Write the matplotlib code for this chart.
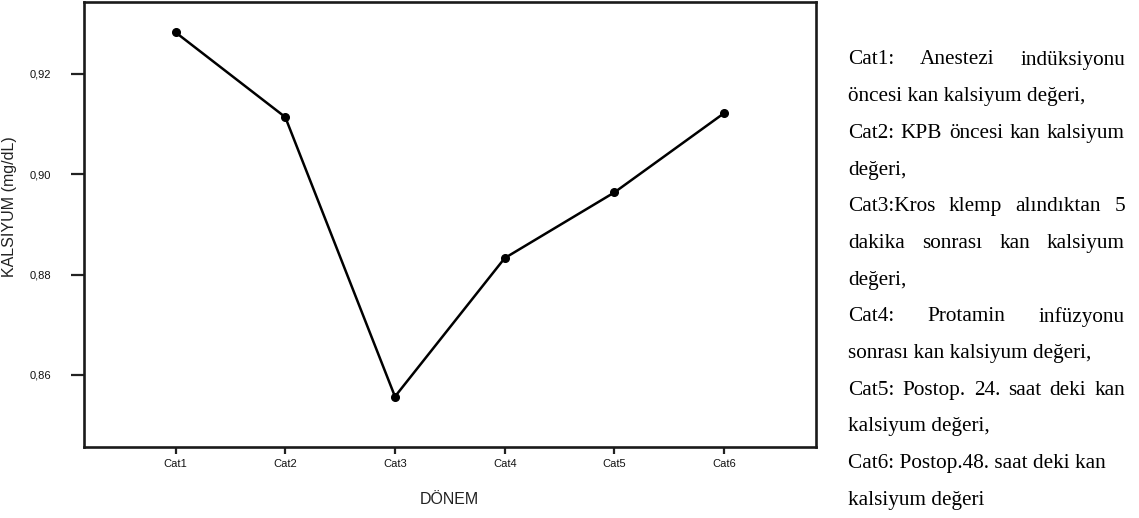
import matplotlib
matplotlib.use("Agg")
import matplotlib.pyplot as plt
from matplotlib.ticker import FixedLocator, FuncFormatter

categories = ["Cat1", "Cat2", "Cat3", "Cat4", "Cat5", "Cat6"]
kalsiyum = [0.9283, 0.9114, 0.8557, 0.8833, 0.8964, 0.9122]
yticks = [0.86, 0.88, 0.90, 0.92]

# aciklama satirlari: (metin, iki yana yasli mi)
notes = [
    ("Cat1: Anestezi indüksiyonu", True),
    ("öncesi kan kalsiyum değeri,", False),
    ("Cat2: KPB öncesi kan kalsiyum", True),
    ("değeri,", False),
    ("Cat3:Kros klemp alındıktan 5", True),
    ("dakika sonrası kan kalsiyum", True),
    ("değeri,", False),
    ("Cat4: Protamin infüzyonu", True),
    ("sonrası kan kalsiyum değeri,", False),
    ("Cat5: Postop. 24. saat deki kan", True),
    ("kalsiyum değeri,", False),
    ("Cat6: Postop.48. saat deki kan", False),
    ("kalsiyum değeri", False),
]

W, H = 1139, 518
fig = plt.figure(figsize=(W / 100, H / 100), dpi=100)
ax = fig.add_axes([84 / W, 1 - 447 / H, (815.7 - 84) / W, (447 - 1.7) / H])

x = list(range(1, len(categories) + 1))
ax.plot(x, kalsiyum, color="black", lw=1.8, marker="o", ms=5.5, zorder=3)

ax.set_xlim(0.166, 6.834)
ax.set_ylim(0.84565, 0.9344)
ax.set_xticks(x)
ax.set_xticklabels(categories)
ax.yaxis.set_major_locator(FixedLocator(yticks))
ax.yaxis.set_major_formatter(FuncFormatter(lambda v, p: f"{v:.2f}".replace(".", ",")))

sans = ["Liberation Sans Narrow", "Liberation Sans", "DejaVu Sans"]
for lab in ax.get_xticklabels() + ax.get_yticklabels():
    lab.set_family(sans)
    lab.set_fontsize(8)
    lab.set_color("#111111")

ax.tick_params(axis="y", length=9.5, width=1.6, pad=14, color="#222222")
ax.tick_params(axis="x", length=5.2, width=1.6, pad=3.5, color="#222222")
for sp in ax.spines.values():
    sp.set_linewidth(1.9)
    sp.set_color("#1a1a1a")

ax.set_ylabel("KALSİYUM (mg/dL)", family=["Liberation Sans", "DejaVu Sans"],
              fontsize=11.5, color="#222222")
ax.set_xlabel("DÖNEM", family=["Liberation Sans", "DejaVu Sans"],
              fontsize=11.5, color="#222222")
ax.yaxis.set_label_coords(-0.0916, 0.539)
ax.xaxis.set_label_coords(0.5, -0.101)

# sag taraftaki aciklama metni, iki yana yasli
renderer = fig.canvas.get_renderer()
left, right = 848, 1125
top, step = 60, 36.7
serif = dict(family=["Liberation Serif", "DejaVu Serif"], fontsize=15.3, color="black")
for i, (line, justify) in enumerate(notes):
    yc = 1 - (top + i * step) / H
    if not justify:
        fig.text(left / W, yc, line, va="center", ha="left", **serif)
        continue
    words = line.split(" ")
    items = [fig.text(0, yc, w, va="center", ha="left", **serif) for w in words]
    widths = [t.get_window_extent(renderer).width for t in items]
    gap = (right - left - sum(widths)) / (len(words) - 1)
    pos = left
    for t, w in zip(items, widths):
        t.set_x(pos / W)
        pos += w + gap

fig.savefig("out.png", dpi=100)
